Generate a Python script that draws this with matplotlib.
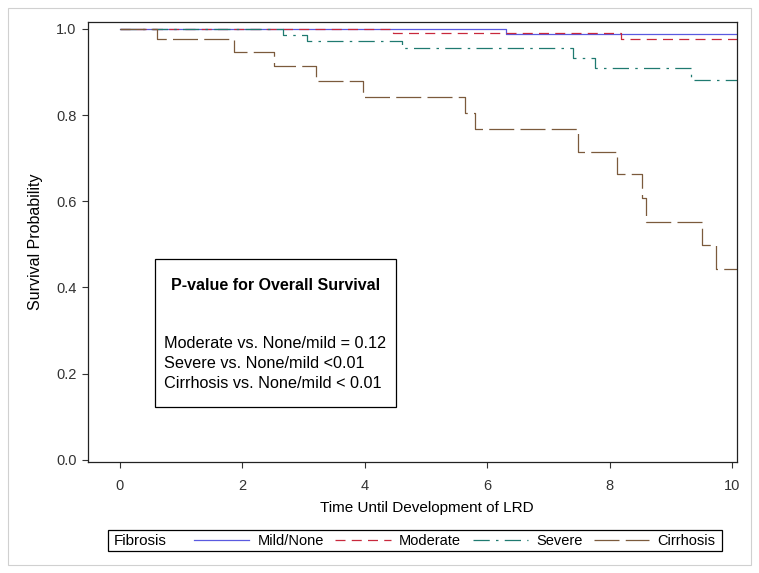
import numpy as np
import matplotlib.pyplot as plt
from matplotlib.lines import Line2D
from matplotlib.patches import Rectangle

plt.rcParams['font.family'] = ['Liberation Sans', 'DejaVu Sans']

# Kaplan-Meier step data
t_mild = [0, 6.30, 10.1]
s_mild = [1.0, 0.989, 0.989]

t_mod = [0, 4.46, 8.18, 10.1]
s_mod = [1.0, 0.990, 0.976, 0.976]

t_sev = [0, 2.66, 3.06, 4.61, 7.40, 7.76, 9.33, 10.1]
s_sev = [1.0, 0.986, 0.972, 0.955, 0.932, 0.909, 0.881, 0.881]

t_cir = [0, 0.61, 1.87, 2.51, 3.20, 3.97, 5.64, 5.80, 7.49, 8.12, 8.53, 8.59, 9.51, 9.73, 10.1]
s_cir = [1.0, 0.976, 0.946, 0.913, 0.879, 0.843, 0.804, 0.767, 0.715, 0.664, 0.607, 0.553, 0.499, 0.442, 0.442]

labels = ["Mild/None", "Moderate", "Severe", "Cirrhosis"]
xticks = [0, 2, 4, 6, 8, 10]
yticks = [0.0, 0.2, 0.4, 0.6, 0.8, 1.0]

pval_title = "P-value for Overall Survival"
pval_lines = ["Moderate vs. None/mild = 0.12",
              "Severe vs. None/mild <0.01",
              "Cirrhosis vs. None/mild < 0.01"]

colors = ['#5a5ae0', '#c8283c', '#1f7a70', '#7b5a3c']
dashes = ['-', (0, (8, 5)), (0, (13, 5, 2, 5)), (0, (20, 5))]

fig = plt.figure(figsize=(7.59, 5.73), dpi=100)
ax = fig.add_axes([88/759, 1-462/573, (737-88)/759, (462-22)/573])

handles = []
for t, s, c, ls, lab in zip([t_mild, t_mod, t_sev, t_cir], [s_mild, s_mod, s_sev, s_cir],
                            colors, dashes, labels):
    h, = ax.plot(t, s, drawstyle='steps-post', color=c, linestyle=ls, lw=0.9, label=lab)
    handles.append(h)

ax.set_xlim(-0.52, 10.08)
ax.set_ylim(-0.005, 1.016)
ax.set_xticks(xticks)
ax.set_yticks(yticks)
ax.set_yticklabels([f"{v:.1f}" for v in yticks])
ax.tick_params(direction='out', length=4.3, width=0.8, colors='#333333', labelsize=10.5, pad=4)
ax.tick_params(axis='x', pad=8)
for sp in ax.spines.values():
    sp.set_color('#222222')
    sp.set_linewidth(0.9)
ax.set_xlabel("Time Until Development of LRD", fontsize=11)
ax.set_ylabel("Survival Probability", fontsize=11.5)
ax.xaxis.set_label_coords((427-88)/(737-88), -(501-462)/440)
ax.yaxis.set_label_coords(-(88-43)/649, 0.5)

# p-value box
fig.patches.append(Rectangle((155/759, 1-407/573), 241/759, 148/573, transform=fig.transFigure,
                             fill=False, edgecolor='black', lw=0.9))
fig.text(275.5/759, 1-285/573, pval_title, fontsize=11.5, fontweight='bold', ha='center', va='center')
for i, line in enumerate(pval_lines):
    fig.text(164/759, 1-(343+20*i)/573, line, fontsize=11.7, ha='left', va='center')

# legend
fig.patches.append(Rectangle((108/759, 1-551/573), (722-108)/759, 21/573, transform=fig.transFigure,
                             fill=False, edgecolor='black', lw=0.9))
fig.text(114/759, 1-541/573, "Fibrosis", fontsize=11, ha='left', va='center')
fig.legend(handles, labels, ncol=4, loc='center left', bbox_to_anchor=(194/759, 1-541/573),
           frameon=False, fontsize=10.5, handlelength=3.8, handletextpad=0.55,
           columnspacing=0.8, borderpad=0, borderaxespad=0)

# outer figure border
fig.patches.append(Rectangle((8/759, 8/573), (751-8)/759, (565-8)/573, transform=fig.transFigure,
                             fill=False, edgecolor='#d0d0d0', lw=0.8))

fig.savefig("out.png", dpi=100)
